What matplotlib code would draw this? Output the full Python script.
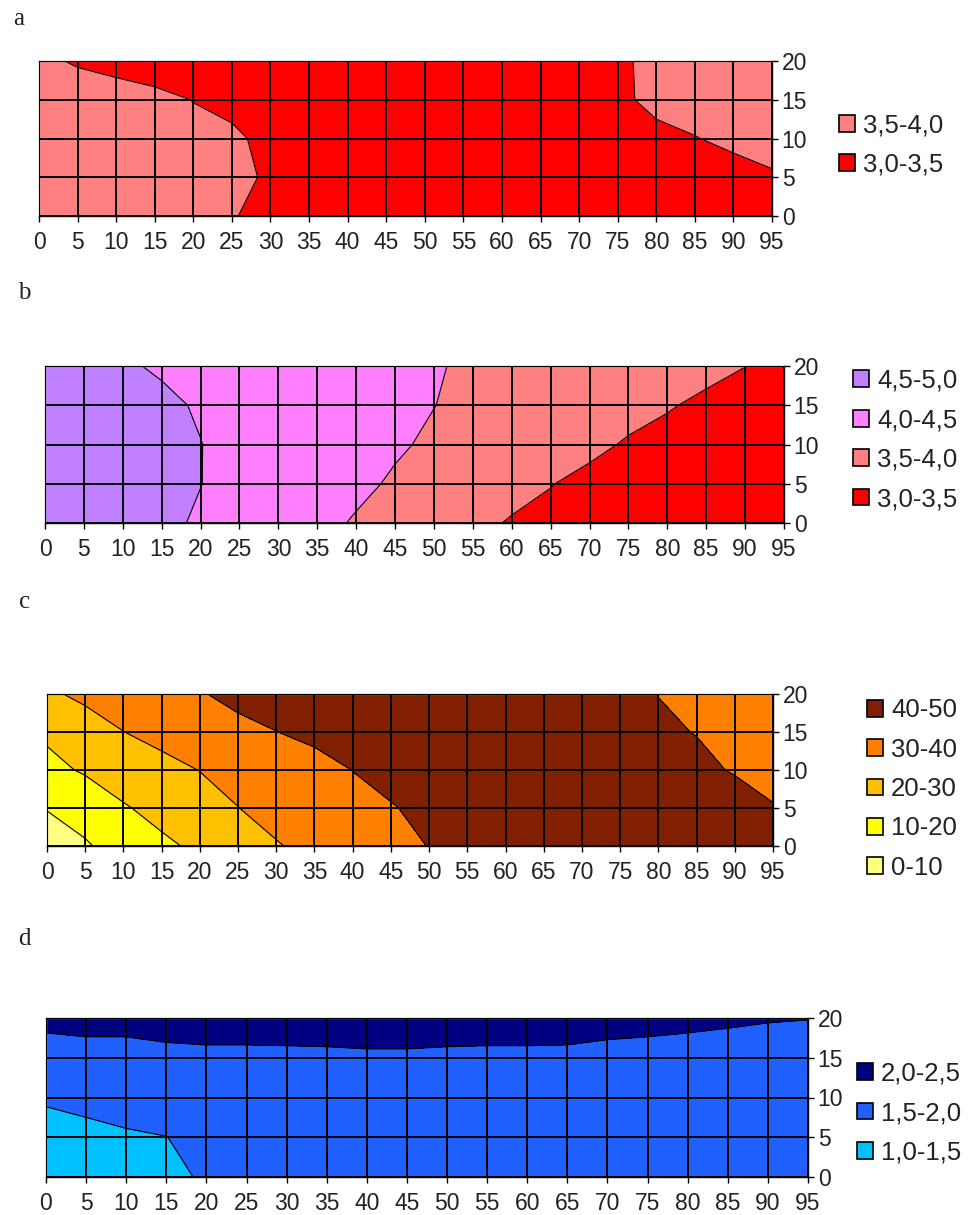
import matplotlib
matplotlib.use('Agg')
import matplotlib.pyplot as plt
from matplotlib.patches import Patch
import numpy as np

plt.rcParams['font.family'] = 'Liberation Sans'

x_vals = [0, 5, 10, 15, 20, 25, 30, 35, 40, 45, 50, 55, 60, 65, 70, 75, 80, 85, 90, 95]
y_vals = [0, 5, 10, 15, 20]

# rows are y = 0, 5, 10, 15, 20
a_z = [
    [3.80, 3.75, 3.70, 3.65, 3.58, 3.52, 3.40, 3.30, 3.25, 3.22, 3.20, 3.20, 3.20, 3.22, 3.25, 3.28, 3.32, 3.36, 3.40, 3.45],
    [3.80, 3.76, 3.72, 3.68, 3.62, 3.56, 3.47, 3.38, 3.30, 3.25, 3.22, 3.20, 3.22, 3.24, 3.27, 3.30, 3.35, 3.40, 3.45, 3.48],
    [3.78, 3.74, 3.70, 3.65, 3.56, 3.54, 3.44, 3.36, 3.30, 3.25, 3.22, 3.22, 3.24, 3.27, 3.31, 3.38, 3.45, 3.495, 3.53, 3.57],
    [3.72, 3.60, 3.58, 3.56, 3.495, 3.44, 3.38, 3.33, 3.28, 3.25, 3.24, 3.25, 3.28, 3.32, 3.38, 3.46, 3.55, 3.56, 3.60, 3.65],
    [3.54, 3.48, 3.44, 3.38, 3.34, 3.30, 3.28, 3.25, 3.22, 3.22, 3.22, 3.24, 3.28, 3.34, 3.40, 3.46, 3.56, 3.60, 3.65, 3.70],
]
a_levels = [3.0, 3.5, 4.0]
a_colors = ['#FF0000', '#FF8080']
a_labels = ['3,0-3,5', '3,5-4,0']

b_z = [
    [4.75, 4.70, 4.62, 4.57, 4.46, 4.34, 4.22, 4.09, 3.97, 3.84, 3.72, 3.59, 3.47, 3.42, 3.38, 3.33, 3.28, 3.23, 3.18, 3.12],
    [4.80, 4.75, 4.68, 4.60, 4.505, 4.39, 4.29, 4.18, 4.07, 3.96, 3.85, 3.74, 3.62, 3.51, 3.42, 3.38, 3.34, 3.30, 3.25, 3.20],
    [4.80, 4.74, 4.66, 4.58, 4.505, 4.41, 4.32, 4.23, 4.13, 4.04, 3.95, 3.85, 3.76, 3.66, 3.57, 3.47, 3.42, 3.38, 3.33, 3.28],
    [4.75, 4.68, 4.61, 4.55, 4.475, 4.40, 4.32, 4.24, 4.16, 4.08, 4.005, 3.92, 3.84, 3.76, 3.68, 3.60, 3.52, 3.45, 3.40, 3.34],
    [4.62, 4.58, 4.53, 4.47, 4.41, 4.34, 4.28, 4.21, 4.15, 4.08, 4.02, 3.96, 3.89, 3.83, 3.76, 3.70, 3.63, 3.57, 3.503, 3.44],
]
b_levels = [3.0, 3.5, 4.0, 4.5, 5.0]
b_colors = ['#FF0000', '#FF8080', '#FF80FF', '#C080FF']
b_labels = ['3,0-3,5', '3,5-4,0', '4,0-4,5', '4,5-5,0']

c_z = [
    [4, 9, 14, 18.5, 21.5, 25.5, 29.5, 32, 34, 37.5, 40.2, 43, 45, 46, 47, 47.5, 47.5, 47, 45.5, 43],
    [10.5, 14, 19.3, 22.5, 25.5, 29.9, 32.5, 35, 37.5, 39.5, 42, 44, 45.5, 46.5, 47, 47, 46.5, 45, 43, 40.5],
    [17.5, 21, 24, 27, 30.2, 32.5, 34.5, 37, 40.1, 42.5, 44, 45, 45.5, 45.5, 45, 44, 43, 41.5, 39.5, 37],
    [21.5, 25.5, 29.9, 33, 36.5, 38, 39.9, 42, 43.5, 44.5, 45, 45, 45, 44.5, 43.5, 42.5, 41, 39.8, 37.5, 35],
    [28.5, 32, 34.5, 37, 39.5, 42, 43.5, 44.5, 45, 45, 45, 44.5, 44, 43.5, 43, 42, 39.9, 37.5, 35, 33],
]
c_levels = [0, 10, 20, 30, 40, 50]
c_colors = ['#FFFF80', '#FFFF00', '#FFC000', '#FF8000', '#802000']
c_labels = ['0-10', '10-20', '20-30', '30-40', '40-50']

d_z = [
    [1.30, 1.32, 1.35, 1.40, 1.55, 1.60, 1.62, 1.63, 1.64, 1.65, 1.65, 1.66, 1.66, 1.67, 1.68, 1.68, 1.69, 1.70, 1.70, 1.71],
    [1.40, 1.42, 1.46, 1.495, 1.62, 1.65, 1.67, 1.68, 1.69, 1.70, 1.70, 1.71, 1.71, 1.72, 1.72, 1.73, 1.73, 1.74, 1.74, 1.75],
    [1.53, 1.58, 1.64, 1.68, 1.72, 1.74, 1.75, 1.76, 1.77, 1.78, 1.78, 1.79, 1.79, 1.80, 1.80, 1.81, 1.81, 1.82, 1.82, 1.83],
    [1.90, 1.90, 1.90, 1.90, 1.90, 1.90, 1.90, 1.90, 1.90, 1.90, 1.90, 1.90, 1.90, 1.90, 1.90, 1.90, 1.90, 1.90, 1.90, 1.90],
    [2.06, 2.09, 2.09, 2.16, 2.21, 2.21, 2.23, 2.26, 2.35, 2.35, 2.26, 2.23, 2.23, 2.21, 2.12, 2.09, 2.06, 2.035, 2.014, 2.005],
]
d_levels = [1.0, 1.5, 2.0, 2.5]
d_colors = ['#00C0FF', '#2060FF', '#000080']
d_labels = ['1,0-1,5', '1,5-2,0', '2,0-2,5']

W, H = 968, 1215
fig = plt.figure(figsize=(W / 100, H / 100), dpi=100)


def px_rect(left, top, right, bottom):
    return [left / W, 1 - bottom / H, (right - left) / W, (bottom - top) / H]


def draw_panel(rect, letter, letter_pos, z, levels, colors, labels, legend_pos):
    ax = fig.add_axes(rect)
    X, Y = np.meshgrid(x_vals, y_vals)
    Z = np.array(z)
    ax.contourf(X, Y, Z, levels=levels, colors=colors)
    ax.contour(X, Y, Z, levels=levels[1:-1], colors='black', linewidths=0.8)

    ax.set_xlim(0, 95)
    ax.set_ylim(0, 20)
    ax.set_xticks(x_vals)
    ax.set_yticks(y_vals)
    ax.set_axisbelow(False)
    ax.grid(True, color='black', linewidth=1.4)

    ax.yaxis.tick_right()
    ax.tick_params(axis='both', labelsize=16.5, labelcolor='#222222', length=4,
                   width=1, color='black', direction='out')
    ax.tick_params(axis='x', pad=7)
    ax.tick_params(axis='y', pad=3)

    ax.spines['top'].set_color('#707070')
    ax.spines['left'].set_color('#909090')
    for s in ('bottom', 'right'):
        ax.spines[s].set_color('black')
    for s in ax.spines.values():
        s.set_linewidth(1.0)

    fig.text(letter_pos[0] / W, 1 - letter_pos[1] / H, letter, ha='center', va='center',
             fontsize=18, family='Liberation Serif', color='#222222')

    handles = [Patch(facecolor=c, edgecolor='black', linewidth=1.2) for c in colors]
    fig.legend(handles[::-1], labels[::-1], loc='center left',
               bbox_to_anchor=(legend_pos[0] / W, 1 - legend_pos[1] / H),
               frameon=False, fontsize=18.5, handlelength=0.63, handleheight=0.63,
               handletextpad=0.3, labelspacing=0.6, borderpad=0, borderaxespad=0,
               labelcolor='#222222')
    return ax


draw_panel(px_rect(39, 61, 772, 216), 'a', (19, 19), a_z, a_levels, a_colors, a_labels, (839, 145))
draw_panel(px_rect(45, 366, 784, 523), 'b', (24, 293), b_z, b_levels, b_colors, b_labels, (853, 440))
draw_panel(px_rect(47, 694, 773, 846), 'c', (25, 602), c_z, c_levels, c_colors, c_labels, (867, 789))
draw_panel(px_rect(46, 1018, 808, 1177), 'd', (24, 939), d_z, d_levels, d_colors, d_labels, (857, 1113))

fig.savefig('out.png', dpi=100)
